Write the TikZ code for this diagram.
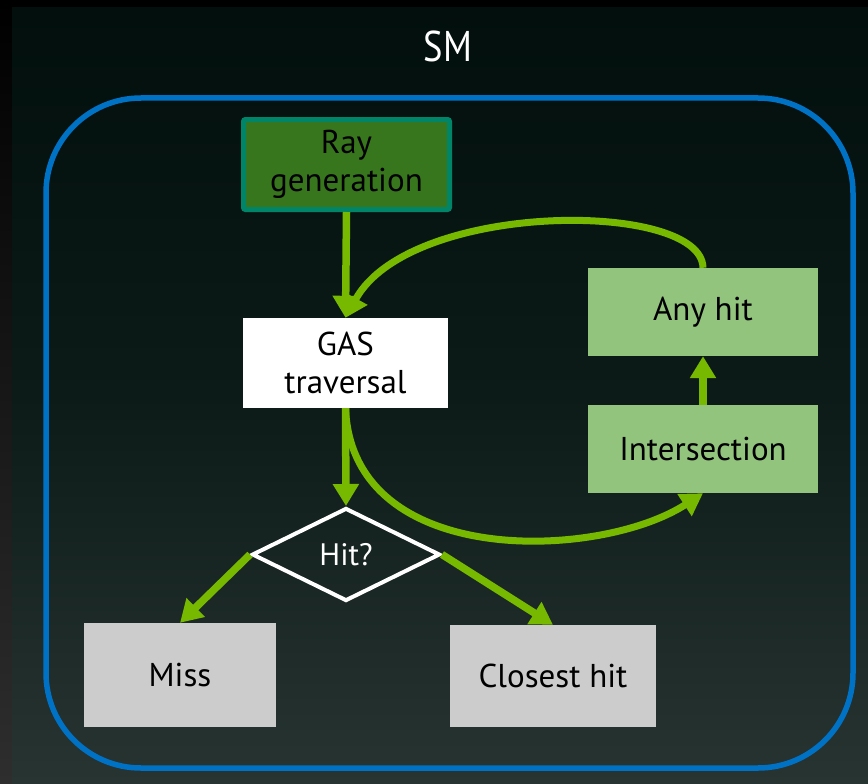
\documentclass[tikz,border=0pt]{standalone}
\usepackage{fontspec}
\setmainfont{PT Sans}
\usetikzlibrary{arrows.meta,shapes.geometric}
\definecolor{nvgreen}{RGB}{118,185,0}
\definecolor{smblue}{RGB}{0,114,198}
\definecolor{rgfill}{RGB}{56,118,29}
\definecolor{rgborder}{RGB}{0,133,105}
\definecolor{boxgreen}{RGB}{147,196,125}
\definecolor{boxgray}{RGB}{204,204,204}
\definecolor{bgtop}{RGB}{2,15,12}
\definecolor{bgmid}{RGB}{12,27,24}
\definecolor{bgbot}{RGB}{40,52,49}
\definecolor{stripbot}{RGB}{46,46,46}
\begin{document}
\begin{tikzpicture}[x=1pt,y=-1pt,
  boxtext/.style={font=\fontsize{33}{38}\selectfont, align=center, text=black, inner sep=0pt},
  stepbox/.style={boxtext, rectangle},
  flow/.style={draw=nvgreen, line width=7.5pt, -{Triangle[width=25pt,length=22pt]}},
  flowcurve/.style={draw=nvgreen, line width=7pt, -{Triangle[width=25pt,length=22pt]}}]
\useasboundingbox (0,0) rectangle (868,784);
% background
\fill[top color=black, bottom color=stripbot] (0,0) rectangle (12,784);
\fill[black] (0,0) rectangle (868,8);
\fill[top color=bgtop, bottom color=bgbot, middle color=bgmid] (12,8) rectangle (868,784);
% SM frame
\node[draw=smblue, line width=5.5pt, rounded corners=95pt, minimum width=807pt, minimum height=670pt, inner sep=0pt] (smbox) at (449.5,433) {};
\node[text=white, font=\fontsize{43}{43}\selectfont, xscale=0.85] (smlabel) at (448,46) {SM};
% nodes
\node[stepbox, fill=rgfill, draw=rgborder, line width=5pt, rounded corners=2pt, minimum width=206pt, minimum height=90pt] (raygen) at (346.5,164.5) {Ray\\generation};
\node[stepbox, fill=white, minimum width=205pt, minimum height=90pt] (gas) at (345.5,363) {GAS\\traversal};
\node[stepbox, fill=boxgreen, minimum width=230pt, minimum height=88pt] (anyhit) at (703,312) {Any hit};
\node[stepbox, fill=boxgreen, minimum width=230pt, minimum height=88pt] (inter) at (703,449) {Intersection};
\node[diamond, draw=white, line width=4pt, minimum width=188pt, minimum height=93pt, inner sep=0pt, text=white, font=\fontsize{31}{38}\selectfont] (hit) at (346,554.5) {Hit?};
\node[stepbox, fill=boxgray, minimum width=192pt, minimum height=104pt] (miss) at (180,675) {Miss};
\node[stepbox, fill=boxgray, minimum width=206pt, minimum height=102pt] (closest) at (553,676) {Closest hit};
% connectors
\draw[flow] (raygen.south) -- (gas.north);
\draw[flow] (gas.south) -- (hit.north);
\draw[flow] (inter.north) -- (anyhit.south);
\draw[flow] (hit.west) -- (miss.north);
\draw[flow] (hit.east) -- (closest.north);
\draw[flowcurve] (anyhit.north) .. controls (702,200) and (410,200) .. (gas.north);
\draw[flowcurve] (gas.south) .. controls (352,570) and (600,560) .. (inter.south);
\end{tikzpicture}
\end{document}
